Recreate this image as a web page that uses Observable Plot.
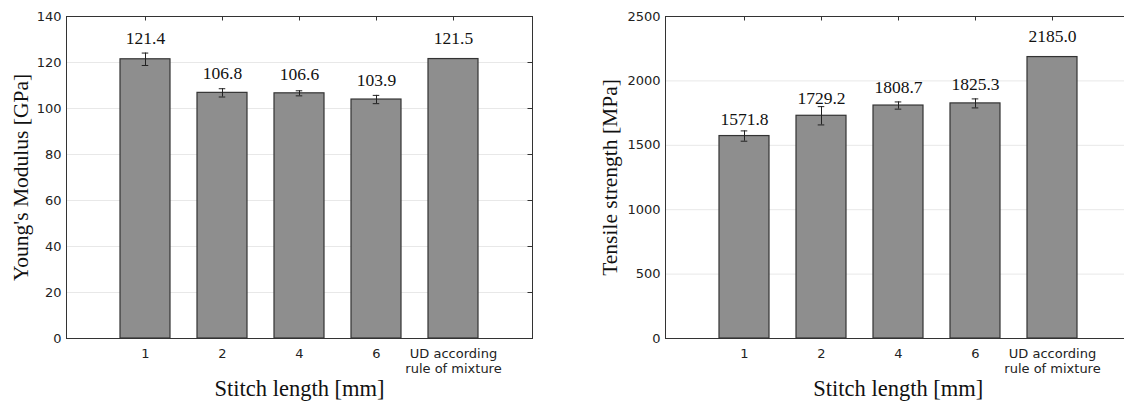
<!DOCTYPE html>
<html><head><meta charset="utf-8">
<script src="https://cdn.jsdelivr.net/npm/d3@7"></script>
<script src="https://cdn.jsdelivr.net/npm/@observablehq/plot@0.6"></script>
<style>
html,body{margin:0;padding:0;background:#fff;overflow:hidden;}
#wrap{position:relative;width:1124px;height:403px;overflow:hidden;}
#left,#right{position:absolute;top:0;}
#left{left:0px;width:560px;} #right{left:560px;width:575px;}
#wrap svg{max-width:none !important;}
</style></head>
<body><div id="wrap"><div id="left"></div><div id="right"></div></div>
<script>
const categories = ["1", "2", "4", "6", "UD according\nrule of mixture"];
const modulus = [121.4, 106.8, 106.6, 103.9, 121.5];
const modulusErr = [2.7, 1.8, 1.1, 1.8, null];
const strength = [1571.8, 1729.2, 1808.7, 1825.3, 2185.0];
const strengthErr = [40, 71, 28, 35, null];
const modulusTicks = [0, 20, 40, 60, 80, 100, 120, 140];
const strengthTicks = [0, 500, 1000, 1500, 2000, 2500];
const xTitle = "Stitch length [mm]";
const modulusTitle = "Young's Modulus [GPa]";
const strengthTitle = "Tensile strength [MPa]";

const H = 403, MT = 16, MB = 65;
const serif = "Liberation Serif, Times New Roman, serif";

function makeChart({values, errs, ticks, yTitle, width, marginLeft, marginRight, titleDx}) {
  const rows = categories.map((c, i) => ({cat: c, value: values[i], err: errs[i]}));
  const errRows = rows.filter(d => d.err != null);
  const innerW = width - marginLeft - marginRight;
  const innerH = H - MT - MB;
  const bw = innerW / 6 * 0.65;
  const capInset = (bw - 7) / 2;
  const tl = 4.5;
  return Plot.plot({
    width, height: H, marginLeft, marginRight, marginTop: MT, marginBottom: MB,
    style: {fontFamily: "DejaVu Sans, sans-serif", fontSize: "13px", color: "#222", background: "#fff"},
    x: {type: "band", domain: categories, paddingInner: 0.35, paddingOuter: 0.675, align: 0.5, label: null},
    y: {domain: [ticks[0], ticks[ticks.length - 1]], label: null},
    marks: [
      Plot.gridY(ticks, {stroke: "#e8e8e8", strokeOpacity: 1}),
      Plot.barY(rows, {x: "cat", y: "value", fill: "#8e8e8e", stroke: "#333", strokeWidth: 1.2}),
      Plot.ruleX(errRows, {x: "cat", y1: d => d.value - d.err, y2: d => d.value + d.err, stroke: "#222", strokeWidth: 1}),
      Plot.tickY(errRows, {x: "cat", y: d => d.value + d.err, insetLeft: capInset, insetRight: capInset, stroke: "#222", strokeWidth: 1}),
      Plot.tickY(errRows, {x: "cat", y: d => d.value - d.err, insetLeft: capInset, insetRight: capInset, stroke: "#222", strokeWidth: 1}),
      Plot.text(rows, {x: "cat", y: d => d.value * 1.055, text: d => d.value.toFixed(1), lineAnchor: "bottom", fontFamily: serif, fontSize: 17.5, fill: "#111"}),
      Plot.tickX(categories, {x: d => d, insetBottom: innerH - tl, stroke: "#333"}),
      Plot.tickY(ticks, {y: d => d, insetLeft: innerW - tl, stroke: "#333"}),
      Plot.axisY(ticks, {tickSize: 0, tickPadding: 5, label: null, fontSize: 13, tickFormat: d => String(d)}),
      Plot.axisX({tickSize: 0, tickPadding: 9, label: null, lineHeight: 1.15, fontSize: 13}),
      Plot.frame({stroke: "#333", strokeWidth: 1}),
      Plot.text([yTitle], {text: d => d, frameAnchor: "left", dx: titleDx, rotate: -90, lineAnchor: "bottom", textAnchor: "middle", fontFamily: serif, fontSize: 21.5, fill: "#111"}),
      Plot.text([xTitle], {text: d => d, frameAnchor: "bottom", dy: 57, lineAnchor: "bottom", textAnchor: "middle", fontFamily: serif, fontSize: 22.5, fill: "#111"})
    ]
  });
}

document.getElementById("left").append(makeChart({
  values: modulus, errs: modulusErr, ticks: modulusTicks, yTitle: modulusTitle,
  width: 560, marginLeft: 66, marginRight: 28, titleDx: -39
}));
document.getElementById("right").append(makeChart({
  values: strength, errs: strengthErr, ticks: strengthTicks, yTitle: strengthTitle,
  width: 575, marginLeft: 105, marginRight: 4.5, titleDx: -49
}));
</script>
</body></html>
